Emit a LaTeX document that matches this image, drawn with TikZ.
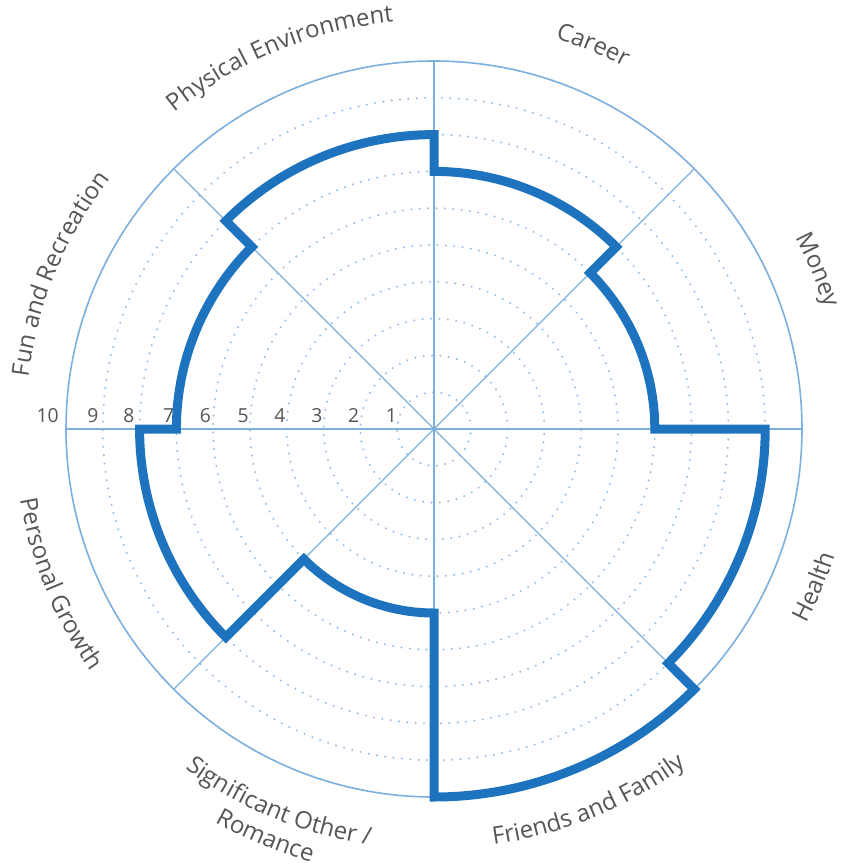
\documentclass[tikz,border=0pt]{standalone}
\usepackage{fontspec}
\setmainfont{Open Sans}
\usetikzlibrary{decorations.text}

\definecolor{wheelblue}{RGB}{30,115,190}
\definecolor{gridblue}{RGB}{125,175,222}
\definecolor{dotblue}{RGB}{150,190,230}
\definecolor{labelgray}{RGB}{85,85,85}
\newcommand{\areafont}{\fontsize{18}{22}\selectfont}

\begin{document}
\begin{tikzpicture}[x=0.75pt,y=0.75pt,yscale=-1,xscale=1,
    ringdots/.style={color=dotblue, line width=1.7pt, line cap=round, dash pattern=on 0pt off 6.3pt},
    spoke/.style={color=gridblue, line width=0.9pt},
    scorebar/.style={color=wheelblue, line width=6.75pt},
    ticklabel/.style={anchor=south east, inner sep=0pt, text=labelgray, font=\fontsize{14.5}{17}\selectfont},
    arealabel/.style={decorate, decoration={text along path, text align=center, text color=labelgray}}]

\path[use as bounding box] (0,0) rectangle (842,868);

\begin{scope}[shift={(434,429)},yscale=-1]
	%Shape: Dotted rings
	\foreach \k in {1,...,9}
		\draw[ringdots] (0,0) circle[radius=\k*36.8];
	%Shape: Spokes
	\foreach \a in {0,45,...,315}
		\draw[spoke] (0,0) -- (\a:368);
	%Shape: Outer circle
	\draw[spoke, line width=1.2pt] (0,0) circle[radius=368];
	
	% Text Node
	\foreach \k/\gap in {1/0,2/1,3/1,4/1,5/1,6/2,7/2,8/5,9/4,10/7}
		\node[ticklabel] (tick\k) at (-\k*36.8-\gap, 6) {\k};
	
	%Shape: Scores
	\draw[scorebar] (90:257.6) arc[start angle=90, end angle=45, radius=257.6]
		-- (45:220.8) arc[start angle=45, end angle=0, radius=220.8]
		-- (0:331.2) arc[start angle=0, end angle=-45, radius=331.2]
		-- (-45:368) arc[start angle=-45, end angle=-90, radius=368]
		-- (-90:184) arc[start angle=-90, end angle=-135, radius=184]
		-- (-135:294.4) arc[start angle=-135, end angle=-180, radius=294.4]
		-- (180:257.6) arc[start angle=180, end angle=135, radius=257.6]
		-- (135:294.4) arc[start angle=135, end angle=90, radius=294.4]
		-- cycle;
	
	% Area labels (top half, clockwise)
	\path[arealabel, decoration={text={|\areafont|Career}}] (127.5:409) arc[start angle=127.5, end angle=7.5, radius=409];
	\path[arealabel, decoration={text={|\areafont|Money}}] (82.5:409) arc[start angle=82.5, end angle=-37.5, radius=409];
	\path[arealabel, decoration={text={|\areafont|Fun and Recreation}}] (217.5:409) arc[start angle=217.5, end angle=97.5, radius=409];
	\path[arealabel, decoration={text={|\areafont|Physical Environment}}] (172.5:409) arc[start angle=172.5, end angle=52.5, radius=409];
	% Area labels (bottom half, counterclockwise)
	\path[arealabel, decoration={text={|\areafont|Health}}] (-82.5:420) arc[start angle=-82.5, end angle=37.5, radius=420];
	\path[arealabel, decoration={text={|\areafont|Friends and Family}}] (-127.5:420) arc[start angle=-127.5, end angle=-7.5, radius=420];
	\path[arealabel, decoration={text={|\areafont|Significant Other /}}] (-172.5:421) arc[start angle=-172.5, end angle=-52.5, radius=421];
	\path[arealabel, decoration={text={|\areafont|Romance}}] (-172.5:450) arc[start angle=-172.5, end angle=-52.5, radius=450];
	\path[arealabel, decoration={text={|\areafont|Personal Growth}}] (-217.5:420) arc[start angle=-217.5, end angle=-97.5, radius=420];
\end{scope}
\end{tikzpicture}
\end{document}
